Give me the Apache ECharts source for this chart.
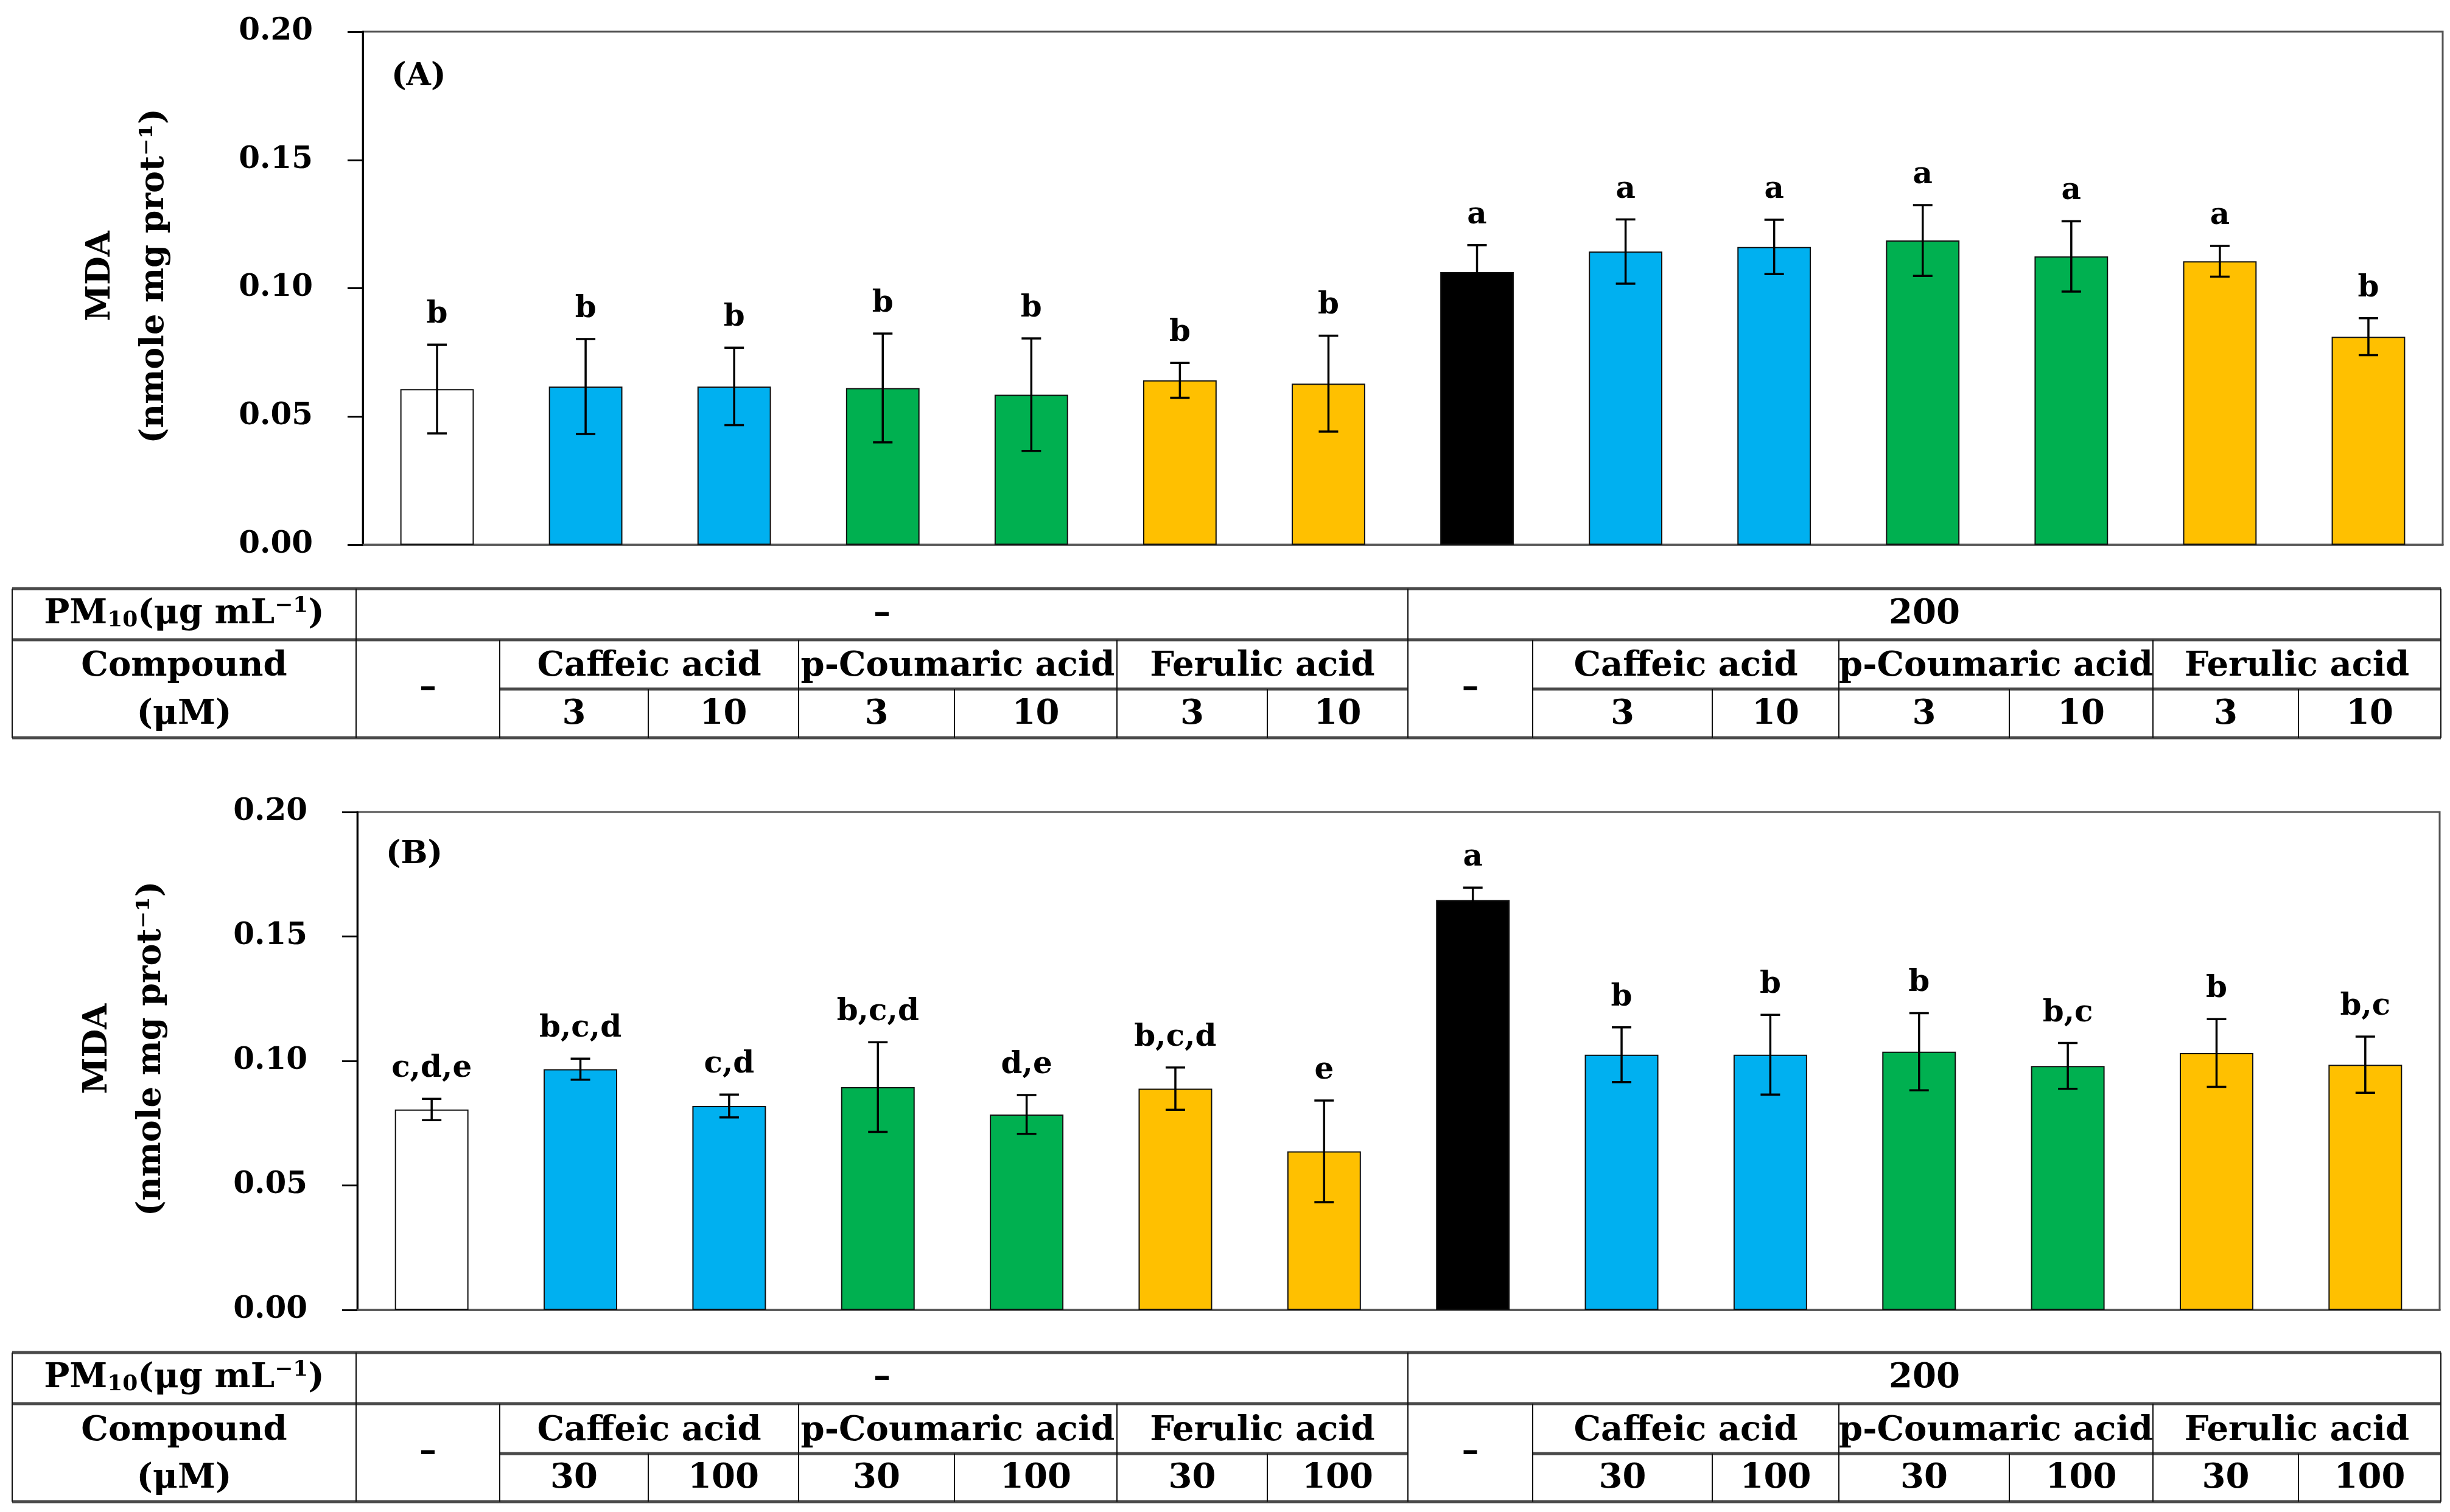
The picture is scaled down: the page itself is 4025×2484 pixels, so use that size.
<!DOCTYPE html>
<html>
<head>
<meta charset="utf-8">
<script src="https://cdn.jsdelivr.net/npm/echarts@6/dist/echarts.min.js"></script>
<style>
html,body{margin:0;padding:0;background:#fff;}
#chart{width:4025px;height:2484px;}
</style>
</head>
<body>
<div id="chart"></div>
<script>
// ---------- data ----------
var categories = ['Control','CA-L','CA-H','pCA-L','pCA-H','FA-L','FA-H',
                  'PM','PM+CA-L','PM+CA-H','PM+pCA-L','PM+pCA-H','PM+FA-L','PM+FA-H'];
var groupOf = ['none','caffeic','caffeic','coumaric','coumaric','ferulic','ferulic',
               'pm','caffeic','caffeic','coumaric','coumaric','ferulic','ferulic'];
var meanA = [0.0607,0.0617,0.0617,0.0611,0.0585,0.0641,0.0628,0.1063,0.1143,0.1161,0.1186,0.1124,0.1105,0.0811];
var errA  = [0.0173,0.0185,0.0151,0.0212,0.0219,0.0068,0.0187,0.0105,0.0125,0.0106,0.0138,0.0137,0.0060,0.0072];
var lettersA = ['b','b','b','b','b','b','b','a','a','a','a','a','a','b'];
var meanB = [0.0805,0.0967,0.0819,0.0895,0.0785,0.0889,0.0637,0.1646,0.1025,0.1025,0.1037,0.0980,0.1032,0.0985];
var errB  = [0.0043,0.0042,0.0046,0.0180,0.0078,0.0085,0.0204,0.0050,0.0110,0.0160,0.0155,0.0092,0.0136,0.0113];
var lettersB = ['c,d,e','b,c,d','c,d','b,c,d','d,e','b,c,d','e','a','b','b','b','b,c','b','b,c'];
var yTicks = [0, 0.05, 0.10, 0.15, 0.20];
var pmLevels = ['\u2013','200'];
var compounds = ['Caffeic acid','p-Coumaric acid','Ferulic acid'];
var dosesA = ['3','10'];
var dosesB = ['30','100'];
var panelTags = ['(A)','(B)'];

// ---------- style ----------
var colorMap = {none:'#FFFFFF', caffeic:'#00B0F0', coumaric:'#00B050', ferulic:'#FFC000', pm:'#000000'};
var FF = '"DejaVu Serif", "Liberation Serif", serif';

var chart = echarts.init(document.getElementById('chart'), null, {renderer:'canvas'});

var grids = [
  {left:596, top:52, right:12, height:843},
  {left:587, top:1334, right:17, height:818}
];

function barData(mean){
  return mean.map(function(v,i){
    return {value:v, itemStyle:{color:colorMap[groupOf[i]]}};
  });
}
function errData(mean, err, letters){
  return mean.map(function(v,i){ return [i, v, err[i], letters[i]]; });
}
function renderErr(params, api){
  var i = api.value(0), m = api.value(1), e = api.value(2);
  var letter = params.seriesIndex === 1 ? lettersA[params.dataIndex] : lettersB[params.dataIndex];
  var hi = api.coord([i, m + e]);
  var lo = api.coord([i, m - e]);
  var cw = 16;
  var ls = {stroke:'#000', lineWidth:3.5};
  return {type:'group', children:[
    {type:'line', shape:{x1:hi[0],y1:hi[1],x2:lo[0],y2:lo[1]}, style:ls},
    {type:'line', shape:{x1:hi[0]-cw,y1:hi[1],x2:hi[0]+cw,y2:hi[1]}, style:ls},
    {type:'line', shape:{x1:lo[0]-cw,y1:lo[1],x2:lo[0]+cw,y2:lo[1]}, style:ls},
    {type:'text', style:{text:letter, x:hi[0], y:hi[1]-24, fill:'#000',
      font:'bold 50px ' + FF, align:'center', verticalAlign:'bottom'}}
  ]};
}

function yAxis(gi, gap){
  return {
    type:'value', gridIndex:gi, min:0, max:0.2, interval:0.05,
    name:'MDA\n(nmole mg prot\u207B\u00B9)', nameLocation:'middle', nameRotate:90, nameGap:gap,
    nameTextStyle:{fontFamily:FF, fontWeight:'bold', fontSize:54, lineHeight:88, color:'#000', align:'center',
      padding:[0,0,0,40]},
    axisLine:{show:true, lineStyle:{color:'#000', width:3}},
    axisTick:{show:true, inside:false, length:25, lineStyle:{color:'#000', width:3}},
    axisLabel:{margin:82, fontFamily:FF, fontWeight:'bold', fontSize:50, color:'#000',
      formatter:function(v){ return v.toFixed(2); }},
    splitLine:{show:false}
  };
}
function xAxis(gi){
  return {
    type:'category', gridIndex:gi, data:categories,
    axisLine:{show:true, lineStyle:{color:'#555', width:3.5}},
    axisTick:{show:false}, axisLabel:{show:false}, splitLine:{show:false}
  };
}

// ---------- table (graphic) ----------
var colX = [20, 585, 821, 1065, 1312, 1568, 1835, 2082, 2313, 2518, 2813, 3021, 3301, 3537, 3776, 4010];
function tableElements(rowY, doses){
  var el = [];
  var thick = {stroke:'#4a4a4a', lineWidth:5};
  var thin = {stroke:'#111', lineWidth:2};
  function hl(x1,x2,y,st){ el.push({type:'line', shape:{x1:x1,y1:y,x2:x2,y2:y}, style:st, z:10}); }
  function vl(x,y1,y2){ el.push({type:'line', shape:{x1:x,y1:y1,x2:x,y2:y2}, style:thin, z:10}); }
  function tx(t,x,y,size,rich){
    var s = {text:t, x:x, y:y, fill:'#000', font:'bold '+(size||56)+'px '+FF, align:'center', verticalAlign:'middle'};
    if (rich) s.rich = rich;
    el.push({type:'text', style:s, z:11});
  }
  var L = colX[0], R = colX[15];
  hl(L, R, rowY[0], thick);
  hl(L, R, rowY[1], thick);
  hl(colX[2], colX[8], rowY[2], thick);
  hl(colX[9], colX[15], rowY[2], thick);
  hl(L, R, rowY[3], thick);
  vl(L, rowY[0], rowY[3]); vl(colX[1], rowY[0], rowY[3]);
  vl(colX[8], rowY[0], rowY[3]); vl(R, rowY[0], rowY[3]);
  [2,4,6,9,11,13].forEach(function(k){ vl(colX[k], rowY[1], rowY[3]); });
  [3,5,7,10,12,14].forEach(function(k){ vl(colX[k], rowY[2], rowY[3]); });
  var r1 = (rowY[0]+rowY[1])/2, r2 = (rowY[1]+rowY[2])/2, r3 = (rowY[2]+rowY[3])/2;
  var mid23 = (rowY[1]+rowY[3])/2;
  // row labels
  tx('{n|PM}{s|10}{n|(\u03BCg mL}{p|\u22121}{n|)}', (colX[0]+colX[1])/2, r1, 56, {
    n:{fontFamily:FF, fontWeight:'bold', fontSize:56, color:'#000'},
    s:{fontFamily:FF, fontWeight:'bold', fontSize:36, color:'#000', padding:[22,0,0,0]},
    p:{fontFamily:FF, fontWeight:'bold', fontSize:36, color:'#000', padding:[0,0,26,0]}
  });
  tx('Compound', (colX[0]+colX[1])/2, r2+4);
  tx('(\u03BCM)', (colX[0]+colX[1])/2, r3+2);
  // PM levels
  tx(pmLevels[0], (colX[1]+colX[8])/2, r1);
  tx(pmLevels[1], (colX[8]+colX[15])/2, r1);
  // dash columns for compounds
  tx('\u2013', (colX[1]+colX[2])/2, mid23);
  tx('\u2013', (colX[8]+colX[9])/2, mid23);
  // compounds and doses
  [[2,4],[4,6],[6,8],[9,11],[11,13],[13,15]].forEach(function(p, j){
    tx(compounds[j % 3], (colX[p[0]]+colX[p[1]])/2, r2+4);
    var m = p[0]+1;
    tx(doses[0], (colX[p[0]]+colX[m])/2, r3+2);
    tx(doses[1], (colX[m]+colX[p[1]])/2, r3+2);
  });
  return el;
}

var graphics = []
  .concat(tableElements([967, 1051, 1132, 1212], dosesA))
  .concat(tableElements([2222, 2306, 2388, 2467], dosesB))
  .concat([
    {type:'text', style:{text:panelTags[0], x:643, y:100, fill:'#000', font:'bold 52px '+FF, align:'left', verticalAlign:'top'}, z:12},
    {type:'text', style:{text:panelTags[1], x:634, y:1378, fill:'#000', font:'bold 52px '+FF, align:'left', verticalAlign:'top'}, z:12}
  ]);

var option = {
  backgroundColor:'#fff',
  animation:false,
  grid: grids.map(function(g){ return Object.assign({show:true, borderColor:'#555', borderWidth:3, backgroundColor:'transparent'}, g); }),
  xAxis:[xAxis(0), xAxis(1)],
  yAxis:[yAxis(0, 298), yAxis(1, 294)],
  series:[
    {type:'bar', xAxisIndex:0, yAxisIndex:0, data:barData(meanA), barWidth:'49.5%',
     itemStyle:{borderColor:'#111', borderWidth:2}},
    {type:'custom', xAxisIndex:0, yAxisIndex:0, data:errData(meanA, errA, lettersA), renderItem:renderErr, z:5},
    {type:'bar', xAxisIndex:1, yAxisIndex:1, data:barData(meanB), barWidth:'49.5%',
     itemStyle:{borderColor:'#111', borderWidth:2}},
    {type:'custom', xAxisIndex:1, yAxisIndex:1, data:errData(meanB, errB, lettersB), renderItem:renderErr, z:5}
  ],
  graphic: graphics
};
chart.setOption(option);
</script>
</body>
</html>
